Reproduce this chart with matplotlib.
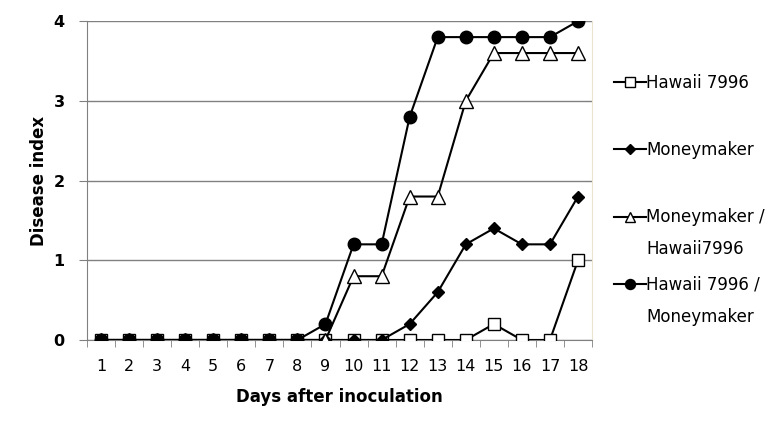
import numpy as np
import matplotlib.pyplot as plt
from matplotlib.ticker import FixedLocator

days = list(range(1, 19))
hawaii = [0, 0, 0, 0, 0, 0, 0, 0, 0, 0, 0, 0, 0, 0, 0.2, 0, 0, 1.0]
moneymaker = [0, 0, 0, 0, 0, 0, 0, 0, 0, 0, 0, 0.2, 0.6, 1.2, 1.4, 1.2, 1.2, 1.8]
mm_hawaii = [0, 0, 0, 0, 0, 0, 0, 0, 0, 0.8, 0.8, 1.8, 1.8, 3.0, 3.6, 3.6, 3.6, 3.6]
hawaii_mm = [0, 0, 0, 0, 0, 0, 0, 0, 0.2, 1.2, 1.2, 2.8, 3.8, 3.8, 3.8, 3.8, 3.8, 4.0]

# legend labels; the two long ones wrap onto a second line in the original
labels = ["Hawaii 7996", "Moneymaker", "Moneymaker /", "Hawaii 7996 /"]
second_lines = ["Hawaii7996", "Moneymaker"]

fig = plt.figure(figsize=(7.79, 4.32), dpi=100)
ax = fig.add_axes([0.1117, 0.213, 0.6483, 0.738])

lw = 1.5
ax.plot(days, hawaii, color='black', lw=lw, marker='s', ms=9, mfc='white', mec='black', mew=1, label=labels[0], zorder=3)
ax.plot(days, moneymaker, color='black', lw=lw, marker='D', ms=6, mfc='black', mec='black', label=labels[1], zorder=4)
ax.plot(days, mm_hawaii, color='black', lw=lw, marker='^', ms=9.5, mfc='white', mec='black', mew=1, label=labels[2], zorder=5)
ax.plot(days, hawaii_mm, color='black', lw=lw, marker='o', ms=9, mfc='black', mec='black', label=labels[3], zorder=6)

ax.set_xlim(0.5, 18.5)
ax.set_ylim(0, 4)
ax.set_yticks([0, 1, 2, 3, 4])
ax.set_yticklabels(['0', '1', '2', '3', '4'], fontsize=11.5, fontweight='bold')
ax.set_xticks(days)
ax.set_xticklabels([str(d) for d in days], fontsize=11.5)
ax.tick_params(axis='x', which='major', length=0, pad=14)
ax.xaxis.set_minor_locator(FixedLocator(np.arange(0.5, 19, 1)))
ax.tick_params(axis='x', which='minor', length=5, color='#808080', direction='out')
ax.tick_params(axis='y', length=6, color='#808080', pad=10)

ax.grid(axis='y', color='#808080', lw=1)
ax.set_axisbelow(True)
for s in ['left', 'bottom']:
    ax.spines[s].set_color('#808080')
ax.spines['top'].set_visible(False)
ax.spines['right'].set_color('#e8e4d0')

ax.set_xlabel('Days after inoculation', fontsize=12, fontweight='bold', labelpad=10)
ax.set_ylabel('Disease index', fontsize=12, fontweight='bold', labelpad=4)

leg = ax.legend(loc='upper left', bbox_to_anchor=(1.03, 0.855), frameon=False,
                fontsize=12, handlelength=1.9, handletextpad=0.05, labelspacing=2.95,
                markerscale=0.8, borderaxespad=0)

# continuation lines of the wrapped legend labels
fig.canvas.draw()
texts = leg.get_texts()
inv = fig.transFigure.inverted()
for t, extra in zip(texts[2:], second_lines):
    bb = t.get_window_extent()
    x0, y0 = inv.transform((bb.x0, bb.y0))
    fig.text(x0, y0 - 32 / 432, extra, fontsize=12, ha='left', va='bottom')

fig.savefig('out.png', dpi=100)
